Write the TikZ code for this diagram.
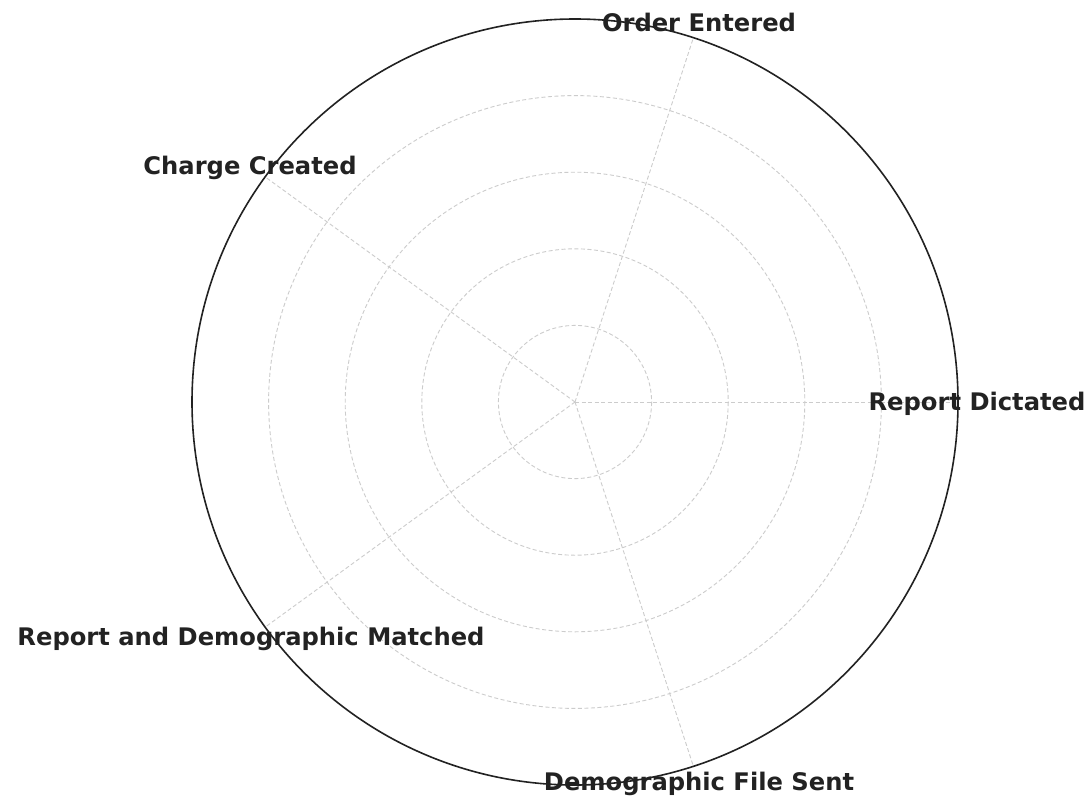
\documentclass[tikz,border=0pt]{standalone}
\usepackage{fontspec}
\setmainfont{DejaVu Sans}
\usetikzlibrary{calc}
\definecolor{txt}{HTML}{222222}
\definecolor{gridc}{HTML}{CCCCCC}
\tikzset{
  lbl/.style={font=\fontsize{24.2}{28}\selectfont\bfseries, text=txt, inner sep=0pt, anchor=center},
  gridring/.style={draw=gridc, line width=0.9pt, dash pattern=on 4pt off 2.5pt},
  spoke/.style={draw=gridc, line width=0.9pt, dash pattern=on 4pt off 2.5pt},
  rim/.style={draw=txt, line width=1.6pt}
}
\begin{document}
\begin{tikzpicture}[x=1pt,y=-1pt]
\useasboundingbox[fill=white] (0,0) rectangle (1091,798);
\coordinate (c) at (575,402);
% grid rings
\foreach \r in {76.6,153.2,229.8,306.4}{
  \draw[gridring] (c) circle[radius=\r];
}
% spokes
\foreach \a/\n in {0/p0,72/p1,144/p2,216/p3,288/p4}{
  \coordinate (\n) at ($(c)+({383*cos(\a)},{-383*sin(\a)})$);
}
\draw[spoke] (c) -- (p0);
\draw[spoke] (c) -- (p1);
\draw[spoke] (c) -- (p2);
\draw[spoke] (c) -- (p3);
\draw[spoke] (c) -- (p4);
% labels
\node[lbl] (l0) at (977,404) {Report Dictated};
\node[lbl] (l1) at (699,22) {Order Entered};
\node[lbl] (l2) at (250,168) {Charge Created};
\node[lbl] (l3) at (251,639) {Report and Demographic Matched};
\node[lbl] (l4) at (699,784) {Demographic File Sent};
% outer rim
\draw[rim] (c) circle[radius=383];
\end{tikzpicture}
\end{document}
